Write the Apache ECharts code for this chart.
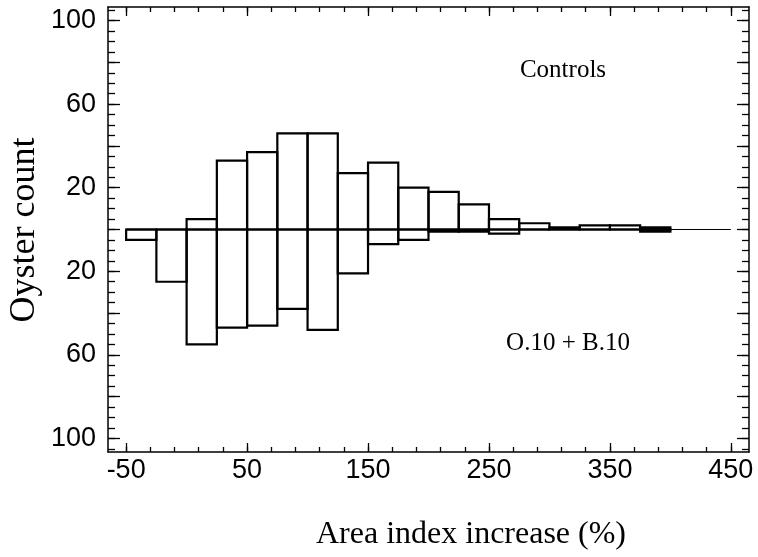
<!DOCTYPE html>
<html>
<head>
<meta charset="utf-8">
<script src="https://cdn.jsdelivr.net/npm/echarts@6/dist/echarts.min.js"></script>
<style>
  html, body { margin: 0; padding: 0; background: #fff; }
  #main { width: 758px; height: 557px; }
</style>
</head>
<body>
<div id="main"></div>
<script>
    // bins of area index increase (%), 25 wide
    var binStart = [-50, -25, 0, 25, 50, 75, 100, 125, 150, 175, 200, 225, 250, 275, 300, 325, 350, 375];
    var binWidth = 25;
    // oyster counts per bin
    var controls = [0, 0, 5, 33, 37, 46, 46, 27, 32, 20, 18, 12, 5, 3, 1, 2, 2, 1];
    var treated  = [5, 25, 55, 47, 46, 38, 48, 21, 7, 5, 1, 1, 2, 0, 0, 0, 0, 1];

    // ticks
    var xMajor = [-50, 50, 150, 250, 350, 450];
    var xMinor = [-50, -30, -10, 10, 30, 50, 70, 90, 110, 130, 150, 170, 190, 210, 230, 250, 270, 290, 310, 330, 350, 370, 390, 410, 430, 450];
    var yMajor = [-100, -80, -60, -40, -20, 0, 20, 40, 60, 80, 100];
    var yMinor = [-105, -100, -95, -90, -85, -80, -75, -70, -65, -60, -55, -50, -45, -40, -35, -30, -25, -20, -15, -10, -5, 0,
                  5, 10, 15, 20, 25, 30, 35, 40, 45, 50, 55, 60, 65, 70, 75, 80, 85, 90, 95, 100, 105];
    var yLabels = [-100, -60, -20, 20, 60, 100];

    var chart = echarts.init(document.getElementById('main'));

    function histData(counts, sign) {
        return counts.map(function (c, i) {
            return [binStart[i], binStart[i] + binWidth, sign * c];
        });
    }

    function renderBar(params, api) {
        var p0 = api.coord([api.value(0), 0]);
        var p1 = api.coord([api.value(1), api.value(2)]);
        return {
            type: 'rect',
            shape: {
                x: p0[0],
                y: Math.min(p0[1], p1[1]),
                width: p1[0] - p0[0],
                height: Math.abs(p1[1] - p0[1])
            },
            style: { fill: 'rgba(0,0,0,0)', stroke: '#000', lineWidth: 2.2 }
        };
    }

    var lineStyle = { color: '#000', width: 1.5 };

    function xAxisDef(pos, ticks, len, showLine, labels) {
        return {
            type: 'value', position: pos, min: -65, max: 465,
            axisLine: { show: showLine, onZero: false, lineStyle: lineStyle },
            axisTick: { show: true, inside: true, length: len, customValues: ticks, lineStyle: { color: '#000', width: 1.3 } },
            axisLabel: labels ? {
                show: true, customValues: xMajor, margin: 5, color: '#000',
                fontFamily: 'Liberation Sans, Arial, sans-serif', fontSize: 27
            } : { show: false },
            splitLine: { show: false }
        };
    }

    function yAxisDef(pos, ticks, len, showLine, labels) {
        return {
            type: 'value', position: pos, min: -106.5, max: 106.5,
            axisLine: { show: showLine, onZero: false, lineStyle: lineStyle },
            axisTick: { show: true, inside: true, length: len, customValues: ticks, lineStyle: { color: '#000', width: 1.3 } },
            axisLabel: labels ? {
                show: true, customValues: yLabels, margin: 12, color: '#000',
                fontFamily: 'Liberation Sans, Arial, sans-serif', fontSize: 27,
                formatter: function (v) { return Math.abs(v); }
            } : { show: false },
            splitLine: { show: false }
        };
    }

    var option = {
        backgroundColor: '#fff',
        animation: false,
        grid: { left: 108, right: 9, top: 7, bottom: 105, containLabel: false },
        xAxis: [
            xAxisDef('bottom', xMajor, 9, true, true),
            xAxisDef('bottom', xMinor, 5, false, false),
            xAxisDef('top', xMajor, 9, true, false),
            xAxisDef('top', xMinor, 5, false, false)
        ],
        yAxis: [
            yAxisDef('left', yMajor, 12, true, true),
            yAxisDef('left', yMinor, 7, false, false),
            yAxisDef('right', yMajor, 12, true, false),
            yAxisDef('right', yMinor, 7, false, false)
        ],
        graphic: [
            {
                type: 'text', x: 471, y: 535,
                style: { text: 'Area index increase (%)', fill: '#000', align: 'center', verticalAlign: 'middle',
                         font: '32px "Liberation Serif", "Times New Roman", serif' }
            },
            {
                type: 'text', x: 7, y: 230, rotation: Math.PI / 2,
                style: { text: 'Oyster count', fill: '#000', align: 'center', verticalAlign: 'top',
                         font: '36px "Liberation Serif", "Times New Roman", serif' }
            },
            {
                type: 'text', x: 563, y: 70,
                style: { text: 'Controls', fill: '#000', align: 'center', verticalAlign: 'middle',
                         font: '25px "Liberation Serif", "Times New Roman", serif' }
            },
            {
                type: 'text', x: 568, y: 343,
                style: { text: 'O.10 + B.10', fill: '#000', align: 'center', verticalAlign: 'middle',
                         font: '25px "Liberation Serif", "Times New Roman", serif' }
            }
        ],
        series: [
            {
                type: 'line',
                data: [[-50, 0], [450, 0]],
                symbol: 'none',
                lineStyle: { color: '#000', width: 1.2 },
                z: 1
            },
            {
                name: 'Controls',
                type: 'custom',
                renderItem: renderBar,
                encode: { x: [0, 1], y: 2 },
                data: histData(controls, 1),
                z: 2
            },
            {
                name: 'O.10 + B.10',
                type: 'custom',
                renderItem: renderBar,
                encode: { x: [0, 1], y: 2 },
                data: histData(treated, -1),
                z: 2
            }
        ]
    };

    chart.setOption(option);
</script>
</body>
</html>
